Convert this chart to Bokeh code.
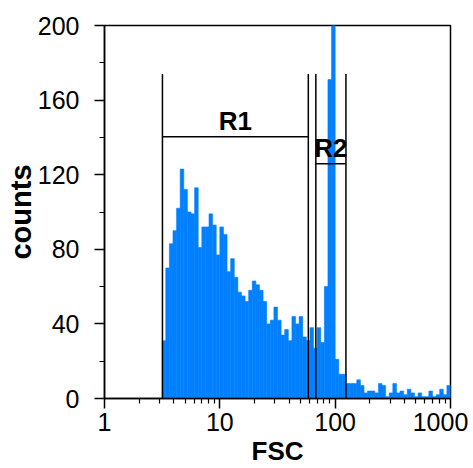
import numpy as np
from bokeh.plotting import figure
from bokeh.models import (Range1d, FixedTicker, PrintfTickFormatter, Label,
                          ColumnDataSource, CustomJSTickFormatter, LogAxis)
from bokeh.embed import file_html
from bokeh.resources import INLINE

# ---- data -------------------------------------------------------------
# histogram: log-spaced bins, 32 bins per decade, first bin starting at 10**0.5
LOG_START = 0.5
BINS_PER_DECADE = 32
counts = [31, 70, 83, 90, 102, 123, 112, 100, 99, 113,
          81, 92, 92, 99, 93, 77, 92, 88, 68, 75,
          65, 57, 55, 52, 58, 63, 61, 58, 52, 40,
          42, 49, 42, 34, 37, 31, 44, 40, 44, 33,
          31, 38, 27, 38, 30, 60, 171, 205, 21, 13,
          13, 8, 8, 8, 10, 7, 3, 4, 4, 3,
          8, 7, 1, 3, 8, 3, 4, 2, 5, 3,
          1, 3, 1, 1, 4, 1, 2, 5, 2, 7]

# gates
gate_names = ["R1", "R2"]
gate_lo = [3.18, 68.0]
gate_hi = [58.5, 124.0]
gate_bar_y = [140.4, 125.9]
gate_top = [174.0, 174.0]

# ticks
x_major = [1, 10, 100, 1000]
x_major_labels = ["1", "10", "100", "1000"]
x_minor = [2, 3, 4, 5, 6, 7, 8, 9, 20, 30, 40, 50, 60, 70, 80, 90,
           200, 300, 400, 500, 600, 700, 800, 900]
y_major = [0, 40, 80, 120, 160, 200]
y_minor = [20, 60, 100, 140, 180]

# ---- figure -----------------------------------------------------------
FONT = "Liberation Sans"
BLUE = "#0080FF"
W, H = 473, 468
LEFT, RIGHT, TOP, BOTTOM = 104, 23, 25, 68
PX_PER_DECADE = (W - LEFT - RIGHT) / 3.0

p = figure(width=W, height=H, x_axis_type="log",
           x_range=Range1d(1, 1000), y_range=Range1d(0, 200),
           output_backend="svg", toolbar_location=None,
           min_border_left=LEFT, min_border_right=RIGHT,
           min_border_top=TOP, min_border_bottom=BOTTOM)
p.background_fill_color = "white"
p.border_fill_color = "white"
p.outline_line_color = "black"
p.outline_line_width = 1.5
p.xgrid.visible = False
p.ygrid.visible = False

edges = 10 ** (LOG_START + np.arange(len(counts) + 1) / BINS_PER_DECADE)
hist = ColumnDataSource(dict(left=edges[:-1], right=edges[1:],
                             top=counts, bottom=[0] * len(counts)))
p.quad(left="left", right="right", top="top", bottom="bottom", source=hist,
       fill_color=BLUE, line_color=BLUE, line_width=0.6)

# gate lines
x0, x1, y0, y1 = [], [], [], []
for lo, hi, by, top in zip(gate_lo, gate_hi, gate_bar_y, gate_top):
    x0 += [lo, hi, lo]
    x1 += [lo, hi, hi]
    y0 += [0, 0, by]
    y1 += [top, top, by]
p.segment(x0=x0, y0=y0, x1=x1, y1=y1, line_color="black", line_width=1.5)

for name, lo, hi, by in zip(gate_names, gate_lo, gate_hi, gate_bar_y):
    p.add_layout(Label(x=float(np.sqrt(lo * hi)), y=by, y_offset=1, text=name,
                       text_align="center", text_baseline="bottom",
                       text_font=FONT, text_font_style="bold",
                       text_font_size="26px", text_color="black"))

# ---- axes ---------------------------------------------------------------
# main x axis: line and ticks only
xa = p.xaxis[0]
xa.ticker = FixedTicker(ticks=x_major, minor_ticks=x_minor)
xa.formatter = CustomJSTickFormatter(code="return ''")
xa.major_label_text_font_size = "1px"
xa.major_label_standoff = 0

ya = p.yaxis[0]
ya.ticker = FixedTicker(ticks=y_major, minor_ticks=y_minor)
ya.formatter = PrintfTickFormatter(format="%d")
ya.major_label_text_font = FONT
ya.major_label_text_font_size = "25px"
ya.major_label_text_color = "black"
ya.major_label_standoff = 15
ya.axis_label = "counts"
ya.axis_label_text_font = FONT
ya.axis_label_text_font_style = "bold"
ya.axis_label_text_font_size = "29px"
ya.axis_label_text_color = "black"
ya.axis_label_standoff = -2

for ax in (xa, ya):
    ax.axis_line_color = "black"
    ax.axis_line_width = 1.5
    ax.major_tick_line_color = "black"
    ax.major_tick_line_width = 1.5
    ax.minor_tick_line_color = "black"
    ax.minor_tick_line_width = 1.2
    ax.major_tick_in = 0
    ax.major_tick_out = 10
    ax.minor_tick_in = 0
    ax.minor_tick_out = 5

# x tick-label row; the last label sits pulled inward as in the reference
last_shift_px = -10
label_pos = list(x_major[:-1]) + [x_major[-1] * 10 ** (last_shift_px / PX_PER_DECADE)]
xl = LogAxis(ticker=FixedTicker(ticks=label_pos),
             formatter=CustomJSTickFormatter(args=dict(labels=x_major_labels),
                                             code="return labels[index]"),
             axis_line_color=None, major_tick_line_color=None,
             minor_tick_line_color=None,
             major_tick_in=0, major_tick_out=0, minor_tick_in=0, minor_tick_out=0,
             major_label_standoff=4, major_label_text_font=FONT,
             major_label_text_font_size="25px", major_label_text_color="black",
             axis_label="FSC", axis_label_text_font=FONT,
             axis_label_text_font_style="bold", axis_label_text_font_size="26px",
             axis_label_text_color="black", axis_label_standoff=2)
p.add_layout(xl, "below")

open("out.html", "w").write(file_html(p, INLINE))
